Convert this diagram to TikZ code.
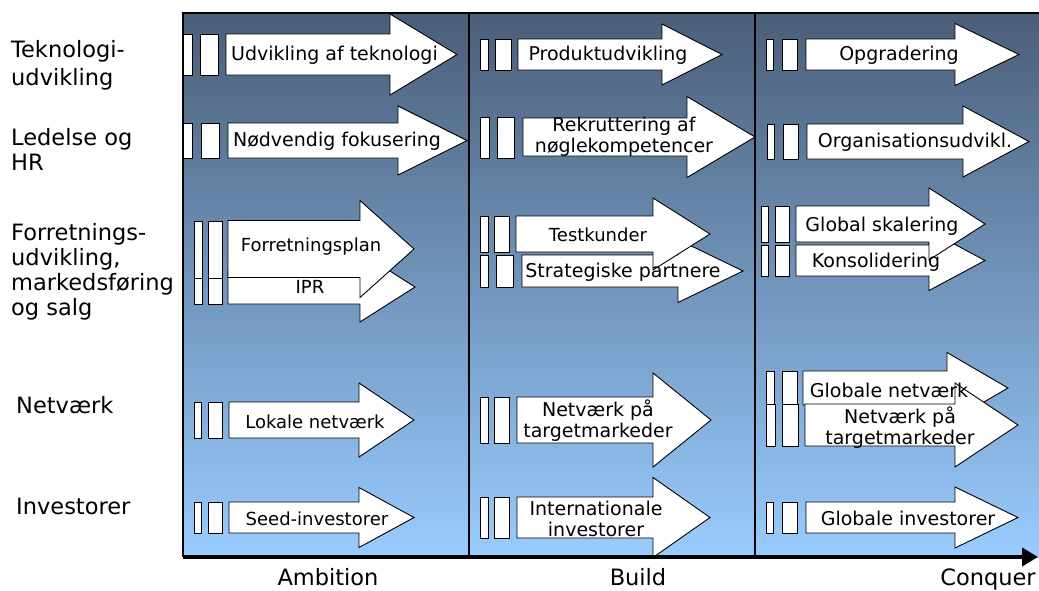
\documentclass[tikz,border=0pt]{standalone}
\usepackage{fontspec}
\setmainfont{DejaVu Sans}
\usetikzlibrary{arrows.meta}

\definecolor{paneltop}{RGB}{74,94,120}
\definecolor{panelbottom}{RGB}{153,204,255}

\tikzset{
  shapeline/.style={draw=black, fill=white, line width=0.9pt, line join=miter},
  stagebar/.style={draw=black, fill=white, line width=0.9pt},
  arrowtext/.style={font=\fontsize{19}{21}\selectfont, inner sep=0pt, align=center},
  smalltext/.style={font=\fontsize{18}{21}\selectfont, inner sep=0pt, align=center},
  rowlabel/.style={font=\fontsize{22.5}{25}\selectfont, inner sep=0pt, align=left, anchor=west},
  phase/.style={font=\fontsize{22.5}{25}\selectfont, inner sep=0pt, anchor=base},
  divider/.style={draw=black, line width=1.3pt},
}

% two white stage bars: x-ranges of both bars, then top and bottom y
\newcommand{\stagebars}[6]{%
  \draw[stagebar] (#1,#5) rectangle (#2,#6);
  \draw[stagebar] (#3,#5) rectangle (#4,#6);}
% block arrow: left x, head base x, tip x, centre y, half body height, half head height
\newcommand{\blockarrow}[6]{%
  \draw[shapeline] (#1,#4-#5) -- (#2,#4-#5) -- (#2,#4-#6) -- (#3,#4)
    -- (#2,#4+#6) -- (#2,#4+#5) -- (#1,#4+#5) -- cycle;}

\begin{document}
\begin{tikzpicture}[x=1pt, y=-1pt]
  \useasboundingbox (0,0) rectangle (1039,590);
  \clip (0,0) rectangle (1039,590);

  % background panel
  \shade[top color=paneltop, bottom color=panelbottom] (183,13) rectangle (1045,557);
  \draw[line width=1.3pt] (1045,13) -- (183,13) -- (183,557);

  % phase dividers
  \coordinate (d1top) at (469,13);
  \coordinate (d1bot) at (469,557);
  \coordinate (d2top) at (755,13);
  \coordinate (d2bot) at (755,557);
  \draw[divider] (d1top) -- (d1bot);
  \draw[divider] (d2top) -- (d2bot);

  % ---------- Ambition ----------
  \stagebars{183}{192}{200}{218}{34}{75}
  \blockarrow{226}{390}{457}{54.5}{20.5}{40.5}
  \stagebars{183}{192}{201}{219}{123}{158}
  \blockarrow{228}{398}{467}{140.5}{17.5}{34.5}
  \stagebars{194}{202}{208}{222}{270}{304}
  \blockarrow{228}{360}{415}{287}{17}{35}
  \stagebars{194}{202}{208}{222}{221}{278}
  \blockarrow{228}{360}{414}{249}{28.5}{48.5}
  \stagebars{194}{201}{208}{222}{402}{438}
  \blockarrow{229}{359}{414}{420}{18}{37}
  \stagebars{194}{201}{208}{222}{502}{533}
  \blockarrow{229}{359}{414}{517.5}{15.5}{30}

  % ---------- Build ----------
  \stagebars{480}{488}{495}{511}{39}{70}
  \blockarrow{518}{662}{722}{54.5}{15.5}{30.5}
  \stagebars{480}{489}{497}{514}{117}{158}
  \blockarrow{523}{687}{755}{137}{19}{40.5}
  \stagebars{480}{488}{496}{513}{255}{287}
  \blockarrow{522}{678}{743}{271}{16}{31.5}
  \stagebars{480}{488}{494}{509}{216}{252}
  \blockarrow{516}{653}{710}{234}{18}{36}
  \stagebars{480}{488}{494}{509}{397}{443}
  \blockarrow{517}{653}{711}{420}{23}{47}
  \stagebars{480}{488}{494}{509}{497}{538}
  \blockarrow{517}{653}{710}{517.5}{20.5}{40}

  % ---------- Conquer ----------
  \stagebars{766}{773}{782}{797}{39}{70}
  \blockarrow{806}{955}{1019}{54.5}{15.5}{31}
  \stagebars{767}{774}{783}{798}{124}{159}
  \blockarrow{807}{963}{1029}{141.5}{17.5}{35.5}
  \stagebars{761}{768}{775}{789}{245}{276}
  \blockarrow{796}{929}{985}{260.5}{15.5}{30}
  \stagebars{761}{768}{775}{789}{206}{242}
  \blockarrow{796}{929}{985}{224}{18}{36}
  \stagebars{766}{774}{782}{797}{371}{404}
  \blockarrow{803}{947}{1008}{388}{17}{35.5}
  \stagebars{766}{775}{782}{798}{404}{446}
  \blockarrow{805}{955}{1018}{425}{21}{42}
  \stagebars{766}{773}{782}{797}{502}{533}
  \blockarrow{806}{955}{1018}{517.5}{15.5}{30.5}

  % arrow texts
  \node[arrowtext] (t11) at (334.5,55) {Udvikling af teknologi};
  \node[arrowtext] (t21) at (337,141) {Nødvendig fokusering};
  \node[smalltext] (t31) at (311,247) {Forretningsplan};
  \node[smalltext] (t32) at (310,287) {IPR};
  \node[smalltext] (t41) at (315,422) {Lokale netværk};
  \node[smalltext] (t51) at (317,519) {Seed-investorer};

  \node[arrowtext] (t12) at (608,55) {Produktudvikling};
  \node[arrowtext] (t22) at (624,137) {Rekruttering af\\nøglekompetencer};
  \node[smalltext] (t33) at (598,235) {Testkunder};
  \node[arrowtext] (t34) at (623,272) {Strategiske partnere};
  \node[arrowtext] (t42) at (598,421) {Netværk på\\targetmarkeder};
  \node[arrowtext] (t52) at (596,519) {Internationale\\investorer};

  \node[arrowtext] (t13) at (899,55) {Opgradering};
  \node[arrowtext] (t23) at (915,142) {Organisationsudvikl.};
  \node[arrowtext] (t35) at (882,226) {Global skalering};
  \node[arrowtext] (t36) at (876,262) {Konsolidering};
  \node[arrowtext] (t43) at (889,390) {Globale netværk};
  \node[arrowtext] (t44) at (900,428) {Netværk på\\targetmarkeder};
  \node[arrowtext] (t53) at (908,518) {Globale investorer};

  % row labels
  \node[rowlabel, font=\fontsize{22.5}{28}\selectfont] (lTech) at (11,65) {Teknologi-\\udvikling};
  \node[rowlabel] (lLead) at (11,149) {Ledelse og\\HR};
  \node[rowlabel] (lBiz) at (11,271.5) {Forretnings-\\udvikling,\\markedsføring\\og salg};
  \node[rowlabel] (lNet) at (16,405) {Netværk};
  \node[rowlabel] (lInv) at (16,506) {Investorer};

  % time axis
  \coordinate (axisStart) at (183,557);
  \coordinate (axisEnd) at (1038,557);
  \draw[line width=4.5pt, -{Triangle[length=16pt, width=18pt]}] (axisStart) -- (axisEnd);

  \node[phase] (pAmb) at (328,585) {Ambition};
  \node[phase] (pBuild) at (638,585) {Build};
  \node[phase] (pConq) at (988,585) {Conquer};
\end{tikzpicture}
\end{document}
